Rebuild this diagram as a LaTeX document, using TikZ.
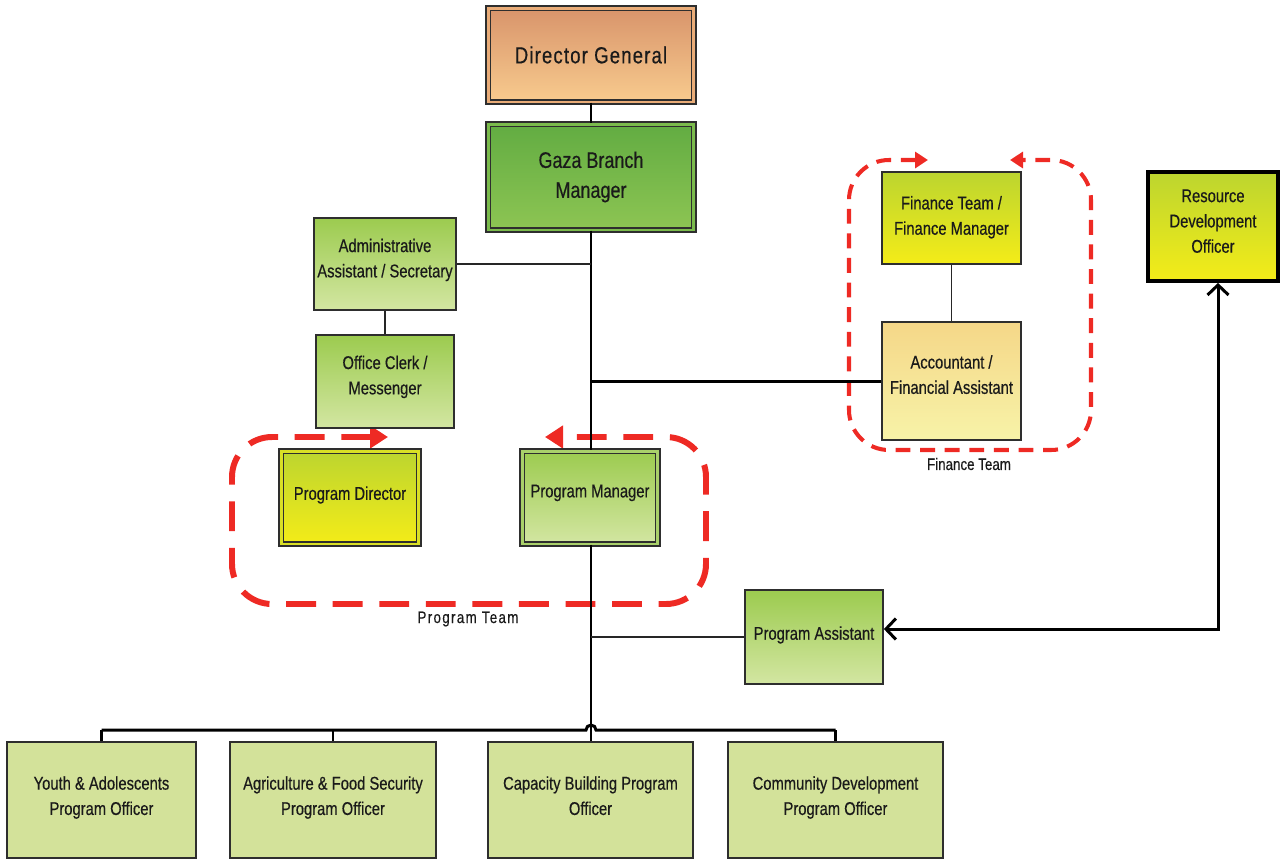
\documentclass[tikz,border=0pt]{standalone}
\usepackage{fontspec}
\setmainfont{Liberation Sans}[FakeStretch=0.8,FakeBold=0.4]
\usetikzlibrary{arrows.meta}
\definecolor{ink}{HTML}{1A1A1A}
\definecolor{edge}{HTML}{2E2E2E}
\definecolor{dgTop}{HTML}{D8946B}
\definecolor{dgBot}{HTML}{F8CB8E}
\definecolor{dgGap}{HTML}{E9AC78}
\definecolor{gzTop}{HTML}{62AC42}
\definecolor{gzBot}{HTML}{8DC553}
\definecolor{gzGap}{HTML}{7BBB4C}
\definecolor{lgTop}{HTML}{9CCB4F}
\definecolor{lgBot}{HTML}{D3E6A2}
\definecolor{lgGap}{HTML}{A9D06A}
\definecolor{yTop}{HTML}{BCD52F}
\definecolor{yMid}{HTML}{EDE91B}
\definecolor{yBot}{HTML}{F4EC18}
\definecolor{yGap}{HTML}{D9DF25}
\definecolor{acTop}{HTML}{F5D788}
\definecolor{acBot}{HTML}{F7F3A8}
\definecolor{poFill}{HTML}{D3E29A}
\definecolor{teamRed}{HTML}{EE2A24}
\newcommand\orgtxt{\fontsize{10.5}{14.4}\selectfont}
\newcommand\bigtxt{\fontsize{12.8}{17}\selectfont}
% raises centred text: adds depth to the last line
\newcommand\lift[1]{\vrule width 0pt height 0pt depth #1}
\begin{document}
\begin{tikzpicture}[x=0.02cm,y=-0.02cm,
  box/.style={draw=edge, line width=1pt, align=center, inner sep=2pt,
    text=ink, font=\orgtxt},
  dbl/.style={double=#1, double distance=1.7pt, line width=0.8pt},
  greenbox/.style={box, top color=lgTop, bottom color=lgBot},
  yellowbox/.style={box, top color=yTop, middle color=yMid, bottom color=yBot},
  pobox/.style={box, fill=poFill, line width=1.5pt},
  conn/.style={draw=black, line width=1.7pt},
  thinconn/.style={draw=black!85, line width=1.1pt},
  team/.style={draw=teamRed, rounded corners=0.8cm},
  teamlabel/.style={text=ink, font=\fontsize{9.5}{11}\selectfont}
]
\useasboundingbox (0,0) rectangle (1282,860);

% ---------- team outlines (drawn first, under the lines) ----------
\draw[team, line width=3.4pt, dash pattern=on 17pt off 9.5pt,
  {Triangle[length=0.36cm,width=0.44cm]}-{Triangle[length=0.36cm,width=0.44cm]}]
  (388,437) -- (232,437) -- (232,604) -- (706,604) -- (706,437) -- (545,437);
\draw[team, line width=2.3pt, dash pattern=on 8.5pt off 5.5pt,
  {Triangle[length=0.26cm,width=0.32cm]}-{Triangle[length=0.26cm,width=0.32cm]}]
  (928,160) -- (849,160) -- (849,450) -- (1091,450) -- (1091,160) -- (1010,160);
\node[teamlabel] (ptl) at (468,619) {\addfontfeature{LetterSpace=8}Program Team};
\node[teamlabel] (ftl) at (969,464) {Finance Team};

% ---------- nodes ----------
\node[box, dbl=dgGap, top color=dgTop, bottom color=dgBot,
  minimum width=4.12cm, minimum height=1.88cm,
  font=\fontsize{13.2}{16}\selectfont] (dg) at (591,55)
  {\addfontfeature{LetterSpace=5}Director General};
\node[box, dbl=gzGap, top color=gzTop, bottom color=gzBot,
  minimum width=4.12cm, minimum height=2.12cm, font=\bigtxt] (gaza) at (591,177)
  {Gaza Branch\\Manager\lift{2pt}};
\node[greenbox, minimum width=2.76cm, minimum height=1.84cm] (admin) at (385,264)
  {Administrative\\Assistant / Secretary\lift{6.8pt}};
\node[greenbox, minimum width=2.76cm, minimum height=1.86cm] (clerk) at (385,381.5)
  {Office Clerk /\\Messenger\lift{7.4pt}};
\node[yellowbox, dbl=yGap, minimum width=2.76cm, minimum height=1.86cm] (pd) at (350,497.5)
  {Program Director\lift{5pt}};
\node[greenbox, dbl=lgGap, minimum width=2.72cm, minimum height=1.86cm] (pm) at (590,497.5)
  {Program Manager\lift{7.4pt}};
\node[yellowbox, minimum width=2.78cm, minimum height=1.84cm] (fm) at (951.5,218)
  {Finance Team /\\Finance Manager\lift{3pt}};
\node[box, top color=acTop, bottom color=acBot,
  minimum width=2.78cm, minimum height=2.36cm] (acc) at (951.5,381)
  {Accountant /\\Financial Assistant\lift{7.4pt}};
\node[yellowbox, draw=black, line width=2.2pt,
  minimum width=2.60cm, minimum height=2.18cm] (rdo) at (1213,226.5)
  {Resource\\Development\\Officer\lift{6.2pt}};
\node[greenbox, minimum width=2.76cm, minimum height=1.88cm] (pa) at (814,637)
  {Program Assistant\lift{4.5pt}};
\node[pobox, minimum width=3.78cm, minimum height=2.32cm] (youth) at (101.5,800)
  {Youth \& Adolescents\\Program Officer\lift{5pt}};
\node[pobox, minimum width=4.12cm, minimum height=2.32cm] (agri) at (333,800)
  {Agriculture \& Food Security\\Program Officer\lift{5pt}};
\node[pobox, minimum width=4.10cm, minimum height=2.32cm] (cap) at (590.5,800)
  {Capacity Building Program\\Officer\lift{5pt}};
\node[pobox, minimum width=4.30cm, minimum height=2.32cm] (comm) at (835.5,800)
  {Community Development\\Program Officer\lift{5pt}};

\coordinate (bus) at (591,730);

% ---------- connectors ----------
\draw[conn] (dg.south) -- (gaza.north);
\draw[conn] (gaza.south) -- (gaza.south |- pm.north);
\draw[conn] (gaza.south |- pm.south) -- (gaza.south |- cap.north);
\draw[thinconn] (admin.east) -- (admin.east -| gaza.south);
\draw[thinconn] (admin.south) -- (clerk.north);
\draw[conn] (acc.west) -- (acc.west -| gaza.south);
\draw[thinconn] (fm.south) -- (acc.north);
\draw[thinconn] (pa.west) -- (pa.west -| gaza.south);
\draw[conn, {Straight Barb[length=0.2cm,width=0.42cm]}-{Straight Barb[length=0.2cm,width=0.42cm]}]
  ([xshift=0.1cm]rdo.south) |- ([yshift=0.16cm]pa.east);
\draw[conn] (youth.north |- bus) -- ([xshift=-0.1cm]bus)
  arc[start angle=180, end angle=0, radius=0.1cm] -- (comm.north |- bus);
\draw[conn] (youth.north |- bus) -- (youth.north);
\draw[conn] (agri.north |- bus) -- (agri.north);
\draw[conn] (comm.north |- bus) -- (comm.north);
\end{tikzpicture}
\end{document}
